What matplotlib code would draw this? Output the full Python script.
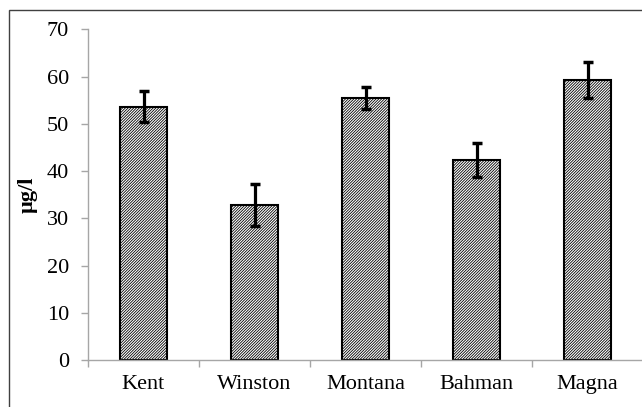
import matplotlib

matplotlib.use("Agg")
import matplotlib.pyplot as plt
from matplotlib.patches import Rectangle

brands = ["Kent", "Winston", "Montana", "Bahman", "Magna"]
means = [53.6, 32.8, 55.4, 42.3, 59.2]
errors = [3.3, 4.4, 2.3, 3.6, 3.8]

plt.rcParams["font.family"] = ["Liberation Serif", "DejaVu Serif"]
plt.rcParams["hatch.linewidth"] = 0.6
plt.rcParams["hatch.color"] = "#333333"

fig = plt.figure(figsize=(6.42, 4.07), dpi=100)
ax = fig.add_axes([88 / 642, 47 / 407, 555 / 642, 330.7 / 407])

x = list(range(len(brands)))
ax.bar(
    x,
    means,
    width=0.42,
    color="white",
    edgecolor="black",
    linewidth=1.5,
    hatch="/" * 12,
    zorder=2,
)
ax.errorbar(
    x,
    means,
    yerr=errors,
    fmt="none",
    ecolor="black",
    elinewidth=2.3,
    capsize=3.3,
    capthick=2.5,
    zorder=3,
)

ax.set_xlim(-0.5, len(brands) - 0.5)
ax.set_ylim(0, 70)
ax.set_yticks(range(0, 71, 10))
ax.set_xticks(x)
ax.set_xticklabels(brands)
ax.set_xticks([i + 0.5 for i in range(-1, len(brands))], minor=True)

for side in ["top", "right"]:
    ax.spines[side].set_visible(False)
for side in ["left", "bottom"]:
    ax.spines[side].set_color("#a6a6a6")
    ax.spines[side].set_linewidth(1.0)

ax.tick_params(axis="y", direction="out", length=5, width=1.0, color="#a6a6a6",
               pad=8.5, labelsize=16)
ax.tick_params(axis="x", which="major", length=0, pad=11, labelsize=16)
ax.tick_params(axis="x", which="minor", direction="out", length=5, width=1.0,
               color="#a6a6a6")

ax.set_ylabel("µg/l", fontsize=16, fontweight="bold")
ax.yaxis.set_label_coords(-0.09, 0.5)

# chart area border (cropped on right and bottom)
fig.patches.append(
    Rectangle((9 / 642, -0.1), 1.2, 1 - 10.3 / 407 + 0.1, transform=fig.transFigure,
              fill=False, edgecolor="#404040", linewidth=1.0, clip_on=False)
)

fig.savefig("out.png", dpi=100)
